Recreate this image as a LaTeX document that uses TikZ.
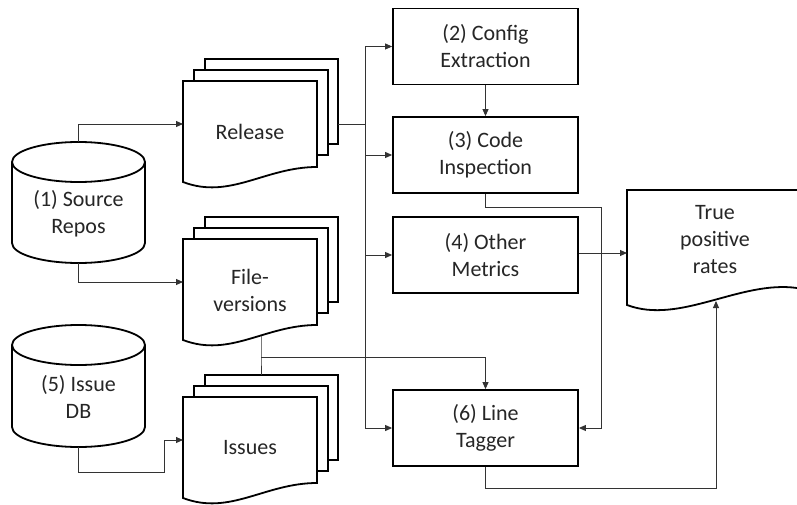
\documentclass[tikz,border=0pt]{standalone}
\usepackage{fontspec}
\setmainfont{Carlito}
\usetikzlibrary{arrows.meta}

\tikzset{
  shape line/.style={line width=1.8pt, draw=black, fill=white, line join=miter},
  link/.style={line width=0.9pt, draw=black!80},
  arr/.style={link, -{Triangle[length=7pt,width=6pt]}},
  label text/.style={font=\fontsize{22}{27}\selectfont, align=center, text=black!85, inner sep=0pt},
  procbox/.style={shape line, rectangle, minimum width=185pt, minimum height=76pt, label text},
  anchorbox/.style={inner sep=0pt, outer sep=0pt}
}

% stack of three pages; #1 = left x of the front page, #2 = its top y, #3 = name
\newcommand\docstack[4]{%
  \draw[shape line] (#1+22,#2-22) rectangle (#1+155,#2+63);
  \draw[shape line] (#1+11,#2-11) rectangle (#1+145,#2+74);
  \draw[shape line] (#1,#2) -- (#1+134,#2) -- (#1+134,#2+86)
    .. controls (#1+82,#2+86) and (#1+47,#2+119) .. (#1,#2+101) -- cycle;
  \node[anchorbox, minimum width=134pt, minimum height=86pt] (#3) at (#1+67,#2+43) {};
  \node[label text] (#3-text) at (#1+67,#2+51) {#4};
  \coordinate (#3-back) at (#1+155,#2+43);
  \coordinate (#3-foot) at (#1+78,#2+97);
  \coordinate (#3-head) at (#1+78,#2-22);
}

% database cylinder; #1 = centre x, #2 = top y, #3 = bottom y, #4 = name
\newcommand\dbcyl[5]{%
  \draw[shape line] (#1-66.5,#2+20) -- (#1-66.5,#3-20)
    .. controls (#1-66.5,#3-8.95) and (#1-36.7,#3) .. (#1,#3)
    .. controls (#1+36.7,#3) and (#1+66.5,#3-8.95) .. (#1+66.5,#3-20)
    -- (#1+66.5,#2+20);
  \draw[shape line] (#1,#2+20) ellipse [x radius=66.5, y radius=20];
  \node[anchorbox, minimum width=133pt, minimum height=#3-#2] (#4) at (#1,{(#2+#3)/2}) {};
  \node[label text] (#4-text) at (#1,{(#2+#3)/2+11}) {#5};
}

\begin{document}
\begin{tikzpicture}[x=1pt, y=-1pt]
  \useasboundingbox (0,0) rectangle (797,505);

  % sources
  \dbcyl{78.5}{142}{263}{src}{(1) Source\\Repos}
  \dbcyl{78.5}{325}{447}{idb}{(5) Issue\\DB}

  % intermediate artefacts
  \docstack{183}{81}{rel}{Release}
  \docstack{183}{239}{fv}{File-\\versions}
  \docstack{183}{397}{iss}{Issues}

  % processing steps
  \node[procbox] (cfg)  at (485.5,46.5) {(2) Config\\Extraction};
  \node[procbox] (code) at (485.5,155)  {(3) Code\\Inspection};
  \node[procbox] (oth)  at (485.5,255)  {(4) Other\\Metrics};
  \node[procbox] (tag)  at (485.5,428)  {(6) Line\\Tagger};

  % result document, running off the right edge
  \draw[shape line] (797,190) -- (627,190) -- (627,305)
    .. controls (680,325) and (740,280) .. (797,288);
  \node[label text] (tpr) at (715,240) {True\\positive\\rates};
  \coordinate (tpr-w) at (627,253);
  \coordinate (tpr-s) at (716,301);

  % junction points
  \coordinate (bus) at (365,124);
  \coordinate (rail) at (601,207);
  \coordinate (hub) at (261,357);
  \coordinate (idb-turn) at (164,472);

  % connectors
  \draw[arr] (src.north) |- (rel.west);
  \draw[arr] (src.south) |- (fv.west);
  \draw[arr] (idb.south) |- (idb-turn) |- (iss.west);

  \draw[link] (rel-back) -- (bus);
  \draw[arr] (bus) |- (cfg.west);
  \draw[arr] (bus) |- (code.west);
  \draw[arr] (bus) |- (oth.west);
  \draw[arr] (bus) |- (tag.west);

  \draw[arr] (cfg.south) -- (code.north);
  \draw[arr] (code.south) |- (rail) |- (tag.east);
  \draw[arr] (oth.east |- tpr-w) -- (tpr-w);

  \draw[link] (fv-foot) -- (hub) -- (iss-head);
  \draw[arr] (hub) -| (tag.north);

  \draw[arr] (tag.south) -- ++(0,22) -| (tpr-s);
\end{tikzpicture}
\end{document}
